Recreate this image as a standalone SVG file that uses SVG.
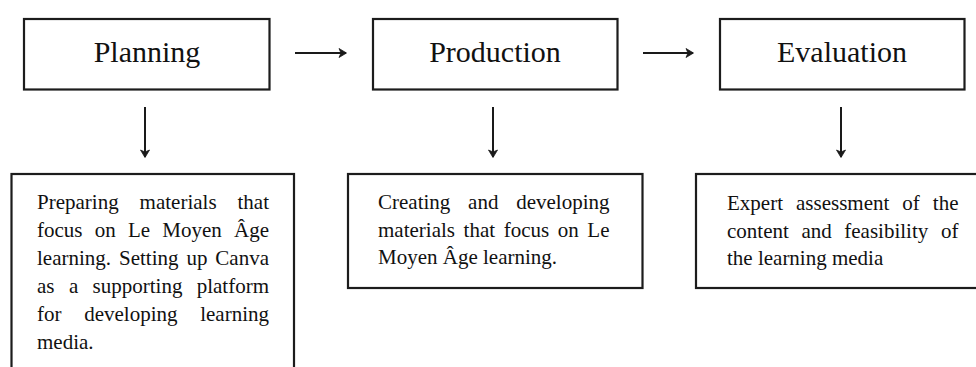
<svg xmlns="http://www.w3.org/2000/svg" width="976" height="367" viewBox="0 0 976 367">
<style>
.box{fill:#fff;stroke:#1c1c1c;stroke-width:2.2}
.h{font-family:"Liberation Serif","Times New Roman",serif;font-size:30px;fill:#111;text-anchor:middle}
.t{font-family:"Liberation Serif","Times New Roman",serif;font-size:21px;fill:#111}
.e{text-anchor:end}
.c{stroke:#1a1a1a;stroke-width:2;fill:none}
</style>
<defs>
<marker id="ah" markerUnits="userSpaceOnUse" markerWidth="12" markerHeight="12" refX="8" refY="5" orient="auto">
<path d="M1,0.5 L8.5,5 L1,9.5 L3,5 Z" fill="#1a1a1a" stroke="#1a1a1a" stroke-width="0.8" stroke-linejoin="round"/>
</marker>
</defs>
<rect width="976" height="367" fill="#fff"/>
<g id="connectors">
<line class="c" x1="295" y1="53" x2="346" y2="53" marker-end="url(#ah)"/>
<line class="c" x1="643" y1="53" x2="693" y2="53" marker-end="url(#ah)"/>
<line class="c" x1="145" y1="107" x2="145" y2="157" marker-end="url(#ah)"/>
<line class="c" x1="493" y1="107" x2="493" y2="157" marker-end="url(#ah)"/>
<line class="c" x1="841" y1="107" x2="841" y2="157" marker-end="url(#ah)"/>
</g>
<g id="planning">
<rect class="box" x="24" y="19" width="245.5" height="70.5"/>
<text class="h" x="147" y="62">Planning</text>
</g>
<g id="production">
<rect class="box" x="373" y="19" width="244.5" height="70.5"/>
<text class="h" x="495" y="62">Production</text>
</g>
<g id="evaluation">
<rect class="box" x="720" y="19" width="244.5" height="70.5"/>
<text class="h" x="842" y="62">Evaluation</text>
</g>
<g id="planning-detail">
<rect class="box" x="11.5" y="174" width="282.5" height="210"/>
<text class="t" x="37" y="209">Preparing</text>
<text class="t" x="139.6" y="209">materials</text>
<text class="t e" x="269" y="209">that</text>
<text class="t" x="37" y="237">focus</text>
<text class="t" x="94.7" y="237">on</text>
<text class="t" x="127.9" y="237">Le</text>
<text class="t" x="162.3" y="237">Moyen</text>
<text class="t e" x="269" y="237">Âge</text>
<text class="t" x="37" y="265">learning.</text>
<text class="t" x="119" y="265">Setting</text>
<text class="t" x="186.4" y="265">up</text>
<text class="t e" x="269" y="265">Canva</text>
<text class="t" x="37" y="293">as</text>
<text class="t" x="68.9" y="293">a</text>
<text class="t" x="92.6" y="293">supporting</text>
<text class="t e" x="269" y="293">platform</text>
<text class="t" x="37" y="321">for</text>
<text class="t" x="84.2" y="321">developing</text>
<text class="t e" x="269" y="321">learning</text>
<text class="t" x="37" y="349">media.</text>
</g>
<g id="production-detail">
<rect class="box" x="348" y="174" width="294.5" height="114"/>
<text class="t" x="378" y="209">Creating</text>
<text class="t" x="468.1" y="209">and</text>
<text class="t e" x="609.5" y="209">developing</text>
<text class="t" x="378" y="237">materials</text>
<text class="t" x="463.6" y="237">that</text>
<text class="t" x="503.7" y="237">focus</text>
<text class="t" x="557.8" y="237">on</text>
<text class="t e" x="609.5" y="237">Le</text>
<text class="t" x="378" y="264">Moyen Âge learning.</text>
</g>
<g id="evaluation-detail">
<rect class="box" x="696" y="174" width="300" height="114"/>
<text class="t" x="727" y="210">Expert</text>
<text class="t" x="796" y="210">assessment</text>
<text class="t" x="902.3" y="210">of</text>
<text class="t e" x="958.5" y="210">the</text>
<text class="t" x="727" y="237.5">content</text>
<text class="t" x="801.4" y="237.5">and</text>
<text class="t" x="844.3" y="237.5">feasibility</text>
<text class="t e" x="958.5" y="237.5">of</text>
<text class="t" x="727" y="265">the learning media</text>
</g>
</svg>
